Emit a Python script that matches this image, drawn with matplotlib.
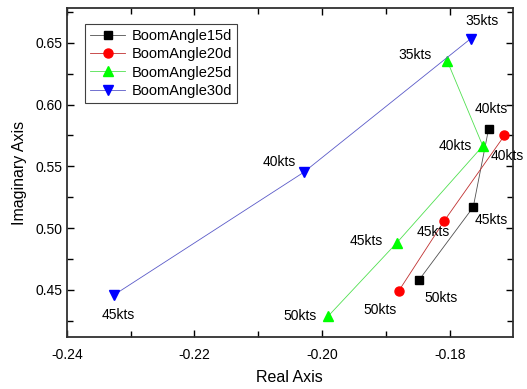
import matplotlib.pyplot as plt
from matplotlib.ticker import MultipleLocator

plt.rcParams['font.family'] = ['Liberation Sans', 'DejaVu Sans']

# datos (parte real, parte imaginaria)
names = ['BoomAngle15d', 'BoomAngle20d', 'BoomAngle25d', 'BoomAngle30d']
re15 = [-0.1739, -0.1763, -0.1848]
im15 = [0.580, 0.517, 0.458]
kts15 = ['40kts', '45kts', '50kts']
re20 = [-0.1714, -0.1809, -0.1880]
im20 = [0.575, 0.5055, 0.449]
kts20 = ['40kts', '45kts', '50kts']
re25 = [-0.1804, -0.1748, -0.1883, -0.1990]
im25 = [0.6356, 0.5665, 0.488, 0.429]
kts25 = ['35kts', '40kts', '45kts', '50kts']
re30 = [-0.1767, -0.2029, -0.2326]
im30 = [0.6533, 0.5451, 0.446]
kts30 = ['35kts', '40kts', '45kts']

fig = plt.figure(figsize=(5.27, 3.89), dpi=100)
ax = fig.add_axes([0.127, 0.134, 0.846, 0.845])

ax.plot(re15, im15, color='#505050', lw=0.6, marker='s', ms=5.5,
        mfc='black', mec='black', label=names[0])
ax.plot(re20, im20, color='#c03030', lw=0.6, marker='o', ms=6.5,
        mfc='red', mec='red', label=names[1])
ax.plot(re25, im25, color='#50e050', lw=0.6, marker='^', ms=7,
        mfc='#00ff00', mec='#00ff00', label=names[2])
ax.plot(re30, im30, color='#5a5ac8', lw=0.6, marker='v', ms=7,
        mfc='#0000ff', mec='#0000ff', label=names[3])

# desplazamientos de etiquetas en pixeles
off15 = [(3, 20), (18, -13), (22, -18)]
off20 = [(3, -21), (-11, -11), (-19, -19)]
off25 = [(-32, 6), (-28, 0), (-30, 2), (-28, 0)]
off30 = [(11, 18), (-24, 10), (4, -20)]

for xs, ys, ts, offs in [(re15, im15, kts15, off15), (re20, im20, kts20, off20),
                         (re25, im25, kts25, off25), (re30, im30, kts30, off30)]:
    for x, y, t, o in zip(xs, ys, ts, offs):
        ax.annotate(t, (x, y), xytext=o, textcoords='offset pixels',
                    ha='center', va='center', fontsize=10)

ax.set_xlim(-0.24, -0.1701)
ax.set_ylim(0.412, 0.678)
ax.xaxis.set_major_locator(MultipleLocator(0.02))
ax.xaxis.set_minor_locator(MultipleLocator(0.01))
ax.yaxis.set_major_locator(MultipleLocator(0.05))
ax.yaxis.set_minor_locator(MultipleLocator(0.025))
ax.xaxis.set_major_formatter(plt.FormatStrFormatter('%.2f'))
ax.yaxis.set_major_formatter(plt.FormatStrFormatter('%.2f'))
ax.tick_params(which='both', direction='in', top=True, right=True,
               labelsize=10, width=1)
ax.tick_params(which='major', length=5)
ax.tick_params(which='minor', length=4)
ax.tick_params(axis='x', pad=8)
for s in ax.spines.values():
    s.set_linewidth(1.3)
    s.set_color('#303030')

ax.set_xlabel('Real Axis', fontsize=11.5, labelpad=6)
ax.set_ylabel('Imaginary Axis', fontsize=11.5, labelpad=6)

leg = ax.legend(loc='upper left', fontsize=10.5, fancybox=False,
                edgecolor='#404040', framealpha=1, handlelength=2.4,
                borderpad=0.35, labelspacing=0.3, handletextpad=0.4,
                bbox_to_anchor=(0.025, 0.975))
leg.get_frame().set_linewidth(0.8)

fig.savefig('out.png', dpi=100)
